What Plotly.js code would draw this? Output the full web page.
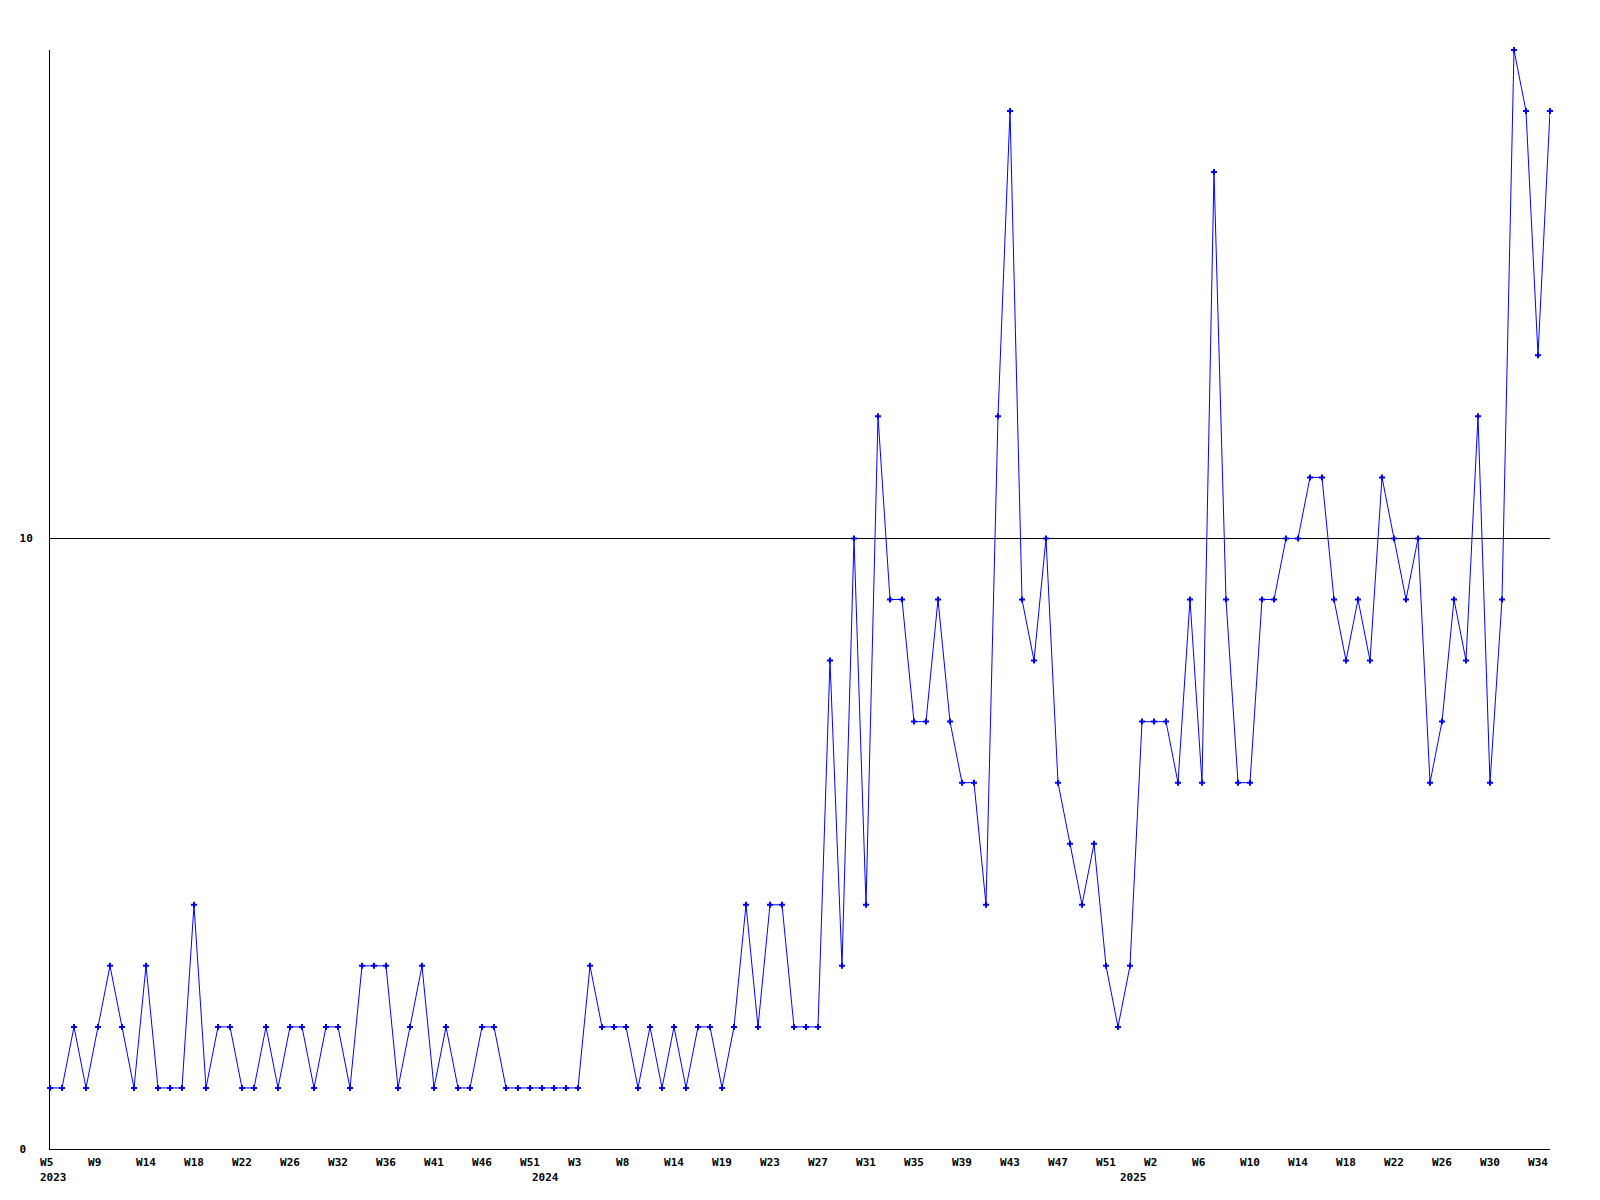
<!DOCTYPE html>
<html><head><meta charset="utf-8">
<script src="https://cdn.plot.ly/plotly-3.0.1.min.js"></script>
<style>html,body{margin:0;padding:0;background:#fff}</style>
</head><body><div id="chart" style="width:1600px;height:1200px"></div>
<script>
// ISO-style week numbers of the weekly points, per year
const weeks2023 = [5,6,7,8,9,10,11,12,14,15,16,17,18,19,20,21,22,23,24,25,26,27,28,29,32,33,34,35,36,37,38,39,41,42,43,44,46,47,48,49,51,52];
const weeks2024 = [1,2,3,4,5,6,8,9,10,11,14,15,16,17,19,20,21,22,23,24,25,26,27,28,29,30,31,32,33,34,35,36,37,38,39,40,41,42,43,44,45,46,47,48,49,50,51,52];
const weeks2025 = [0,1,2,3,4,5,6,7,8,9,10,11,12,13,14,15,16,17,18,19,20,21,22,23,24,25,26,27,28,29,30,31,32,33,34,35];

// weekly values per year
const values2023 = [1,1,2,1,2,3,2,1,3,1, 1,1,4,1,2,2,1,1,2,1, 2,2,1,2,2,1,3,3,3,1, 2,3,1,2,1,1,2,2,1,1, 1,1];
const values2024 = [1,1,1,3,2,2,2,1,2,1, 2,1,2,2,1,2,4,2,4,4, 2,2,2,8,3,10,4,12,9,9, 7,7,9,7,6,6,4,12,17, 9,8,10,6,5,4,5,3,2];
const values2025 = [3,7,7,7,6,9,6,16,9,6, 6,9,9,10,10,11,11,9,8,9, 8,11,10,9,10,6,7,9,8,12, 6,9,18,17,13,17];

// year labels and the category each is shown under
const yearLabels = ["2023", "2024", "2025"];
const yearAt = ["2023-W05", "2023-W52", "2025-W00"];

// y-axis ticks
const yTickVals = [0, 10];
const yTickText = ["0\u00a0", "10"];

const pad = n => (n < 10 ? "0" : "") + n;
const cats = [];
const weekNums = [];
[[2023, weeks2023], [2024, weeks2024], [2025, weeks2025]].forEach(([yr, wk]) => {
  wk.forEach(w => { cats.push(yr + "-W" + pad(w)); weekNums.push(w); });
});
const vals = values2023.concat(values2024, values2025);

// a tick label every 4th point
const tickVals = [], tickText = [];
cats.forEach((c, i) => {
  if (i % 4 === 0) {
    tickVals.push(c);
    const t = "W" + weekNums[i];
    tickText.push(t.length < 3 ? t + "\u00a0" : t);
  }
});

const font = {family: "DejaVu Sans Mono", size: 11, color: "#000", weight: "bold"};

const trace = {
  type: "scatter",
  mode: "lines+markers",
  x: cats,
  y: vals,
  line: {color: "rgb(0,0,255)", width: 1},
  marker: {symbol: "cross", size: 5, color: "rgb(0,0,255)", line: {width: 0}},
  cliponaxis: false,
  hoverinfo: "skip"
};

const annotations = yearLabels.map((t, i) => ({
  text: t, x: yearAt[i], xref: "x", y: 0, yref: "paper",
  xanchor: "center", yanchor: "middle", yshift: -28, xshift: 3,
  showarrow: false, font: font
}));

const layout = {
  width: 1600, height: 1200,
  margin: {l: 50, r: 50, t: 50, b: 51, pad: 0},
  paper_bgcolor: "#fff", plot_bgcolor: "#fff",
  showlegend: false,
  xaxis: {
    type: "category",
    range: [0, cats.length - 1],
    tickmode: "array", tickvals: tickVals, ticktext: tickText,
    ticks: "", showgrid: false, zeroline: false,
    showline: true, linecolor: "#000", linewidth: 1,
    tickfont: font, ticklabelstandoff: 3, tickangle: 0
  },
  yaxis: {
    range: [0, 18],
    tickmode: "array", tickvals: yTickVals, ticktext: yTickText,
    ticks: "", showgrid: true, gridcolor: "#000", gridwidth: 1,
    zeroline: false, showline: true, linecolor: "#000", linewidth: 1,
    tickfont: font, ticklabelstandoff: 14
  },
  annotations: annotations
};

Plotly.newPlot("chart", [trace], layout, {staticPlot: true, displayModeBar: false});
</script>
</body></html>
